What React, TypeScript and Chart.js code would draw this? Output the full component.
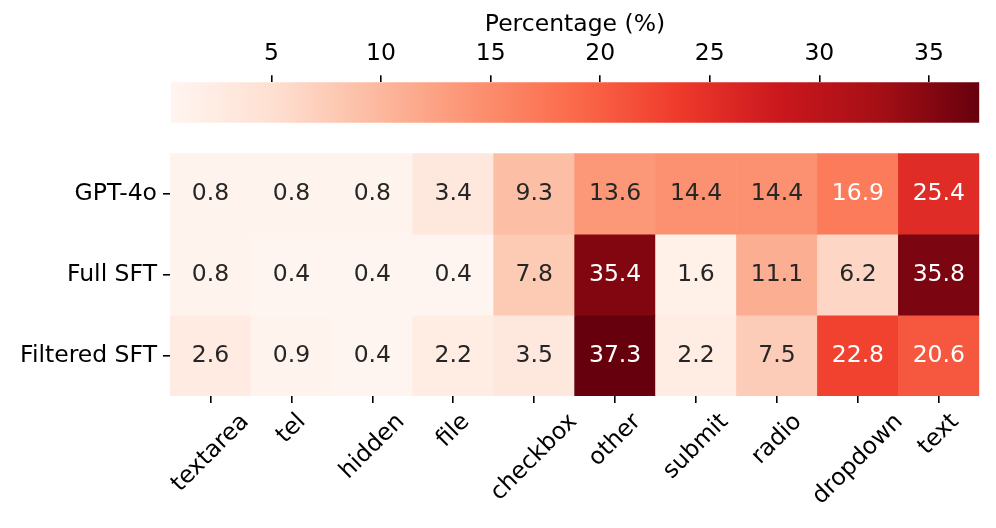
import React, { useEffect, useRef } from "react";
import { Chart, registerables } from "chart.js";

Chart.register(...registerables);

const categories = ["textarea", "tel", "hidden", "file", "checkbox", "other", "submit", "radio", "dropdown", "text"];
const rowLabels = ["GPT-4o", "Full SFT", "Filtered SFT"];
const gpt4o = [0.8, 0.8, 0.8, 3.4, 9.3, 13.6, 14.4, 14.4, 16.9, 25.4];
const fullSft = [0.8, 0.4, 0.4, 0.4, 7.8, 35.4, 1.6, 11.1, 6.2, 35.8];
const filteredSft = [2.6, 0.9, 0.4, 2.2, 3.5, 37.3, 2.2, 7.5, 22.8, 20.6];
const colorbarTicks = [5, 10, 15, 20, 25, 30, 35];
const vMin = 0.4;
const vMax = 37.3;

const REDS = ["#fff5f0", "#fee0d2", "#fcbba1", "#fc9272", "#fb6a4a", "#ef3b2c", "#cb181d", "#a50f15", "#67000d"];
const FONT = '"DejaVu Sans"';
const FS = 23.5;

function hexToRgb(h: string) {
  return [parseInt(h.slice(1, 3), 16), parseInt(h.slice(3, 5), 16), parseInt(h.slice(5, 7), 16)];
}
function redsRgb(t: number) {
  t = Math.max(0, Math.min(1, t));
  const p = t * (REDS.length - 1);
  const i = Math.min(REDS.length - 2, Math.floor(p));
  const f = p - i;
  const a = hexToRgb(REDS[i]);
  const b = hexToRgb(REDS[i + 1]);
  return [0, 1, 2].map((k) => a[k] + (b[k] - a[k]) * f);
}
function colorFor(v: number) {
  const c = redsRgb((v - vMin) / (vMax - vMin));
  return `rgb(${Math.round(c[0])},${Math.round(c[1])},${Math.round(c[2])})`;
}
function textColorFor(v: number) {
  const c = redsRgb((v - vMin) / (vMax - vMin)).map((x) => {
    const s = x / 255;
    return s <= 0.03928 ? s / 12.92 : Math.pow((s + 0.055) / 1.055, 2.4);
  });
  const lum = 0.2126 * c[0] + 0.7152 * c[1] + 0.0722 * c[2];
  return lum > 0.408 ? "#262626" : "#ffffff";
}

export default function App() {
  const cbRef = useRef<HTMLCanvasElement>(null);
  const hmRef = useRef<HTMLCanvasElement>(null);

  useEffect(() => {
    const values = [gpt4o, fullSft, filteredSft];

    const gradientPlugin = {
      id: "cbGradient",
      afterLayout(chart: any) {
        const xs = chart.scales.x;
        const x0 = xs.getPixelForValue(vMin);
        const x1 = xs.getPixelForValue(vMax);
        if (!isFinite(x0) || !isFinite(x1)) return;
        const g = chart.ctx.createLinearGradient(x0, 0, x1, 0);
        REDS.forEach((c, i) => g.addColorStop(i / (REDS.length - 1), c));
        chart.data.datasets[0].backgroundColor = g;
      },
    };

    const cbChart = new Chart(cbRef.current!, {
      type: "bar",
      data: {
        labels: [""],
        datasets: [
          {
            data: [[vMin, vMax]] as any,
            borderWidth: 0,
            barPercentage: 1,
            categoryPercentage: 1,
            backgroundColor: REDS[4],
          },
        ],
      },
      options: {
        indexAxis: "y",
        animation: false,
        responsive: false,
        devicePixelRatio: 1,
        layout: { padding: { left: 170.7, right: 16.7, top: 0, bottom: 7.3 } },
        plugins: { legend: { display: false }, tooltip: { enabled: false } },
        scales: {
          x: {
            type: "linear",
            position: "top",
            min: vMin,
            max: vMax,
            afterBuildTicks: (axis: any) => {
              axis.ticks = colorbarTicks.map((v) => ({ value: v }));
            },
            afterFit: (axis: any) => {
              axis.height = 82.3;
              axis.paddingLeft = 0;
              axis.paddingRight = 0;
            },
            grid: { drawOnChartArea: false, drawTicks: true, tickLength: 7, color: "#000", lineWidth: 1.6 },
            border: { display: false },
            ticks: {
              padding: 7.5,
              color: "#000",
              font: { family: FONT, size: FS },
              maxRotation: 0,
              autoSkip: false,
            },
            title: {
              display: true,
              text: "Percentage (%)",
              color: "#000",
              font: { family: FONT, size: FS },
              padding: { top: 11, bottom: 0 },
            },
          },
          y: { display: false },
        },
      } as any,
      plugins: [gradientPlugin],
    });
    cbChart.update();

    const annotatePlugin = {
      id: "annotate",
      afterDatasetsDraw(chart: any) {
        const ctx = chart.ctx;
        ctx.save();
        ctx.font = `${FS}px ${FONT}`;
        ctx.textAlign = "center";
        ctx.textBaseline = "alphabetic";
        chart.data.datasets.forEach((ds: any, d: number) => {
          const meta = chart.getDatasetMeta(d);
          meta.data.forEach((el: any, i: number) => {
            const raw = ds.data[i];
            const p = el.getProps(["x", "y", "base"], true);
            const cy = (p.y + p.base) / 2;
            ctx.fillStyle = textColorFor(raw.v);
            ctx.fillText(raw.v.toFixed(1), p.x, cy + 6.5);
          });
        });
        ctx.restore();
      },
    };

    const xLabelPlugin = {
      id: "xlabels",
      afterDraw(chart: any) {
        const ctx = chart.ctx;
        const xs = chart.scales.x;
        const top = chart.chartArea.bottom + 7 + 7;
        ctx.save();
        ctx.font = `${FS}px ${FONT}`;
        ctx.fillStyle = "#000";
        ctx.textAlign = "center";
        ctx.textBaseline = "alphabetic";
        categories.forEach((lab, i) => {
          const x = xs.getPixelForTick(i);
          const L = ctx.measureText(lab).width;
          const H = FS * 0.98;
          const half = ((L + H) * Math.SQRT1_2) / 2;
          ctx.save();
          ctx.translate(x, top + half);
          ctx.rotate(-Math.PI / 4);
          ctx.fillText(lab, 0, FS * 0.262);
          ctx.restore();
        });
        ctx.restore();
      },
    };

    const hmChart = new Chart(hmRef.current!, {
      type: "bar",
      data: {
        labels: categories,
        datasets: rowLabels.map((name, r) => ({
          label: name,
          data: values[r].map((v, c) => ({ x: categories[c], y: [r, r + 1], v })),
          backgroundColor: values[r].map((v) => colorFor(v)),
          borderWidth: 0,
          barPercentage: 1,
          categoryPercentage: 1,
          grouped: false,
        })),
      },
      options: {
        animation: false,
        responsive: false,
        devicePixelRatio: 1,
        layout: { padding: { left: 0, right: 16.7, top: 13.3, bottom: 0 } },
        plugins: { legend: { display: false }, tooltip: { enabled: false } },
        scales: {
          x: {
            type: "category",
            offset: true,
            afterFit: (axis: any) => {
              axis.height = 132;
              axis.paddingLeft = 0;
              axis.paddingRight = 0;
            },
            grid: { offset: false, drawOnChartArea: false, drawTicks: true, tickLength: 7, color: "#000", lineWidth: 1.6 },
            border: { display: false },
            ticks: { display: false, autoSkip: false },
          },
          y: {
            type: "linear",
            min: 0,
            max: 3,
            reverse: true,
            afterBuildTicks: (axis: any) => {
              axis.ticks = rowLabels.map((_, i) => ({ value: i + 0.5 }));
            },
            afterFit: (axis: any) => {
              axis.width = 170;
              axis.paddingTop = 0;
              axis.paddingBottom = 0;
            },
            grid: { drawOnChartArea: false, drawTicks: true, tickLength: 7, color: "#000", lineWidth: 1.6 },
            border: { display: false },
            ticks: {
              padding: 6,
              color: "#000",
              font: { family: FONT, size: FS },
              callback: (v: any) => rowLabels[Math.floor(Number(v))],
            },
          },
        },
      } as any,
      plugins: [annotatePlugin, xLabelPlugin],
    });

    return () => {
      cbChart.destroy();
      hmChart.destroy();
    };
  }, []);

  return (
    <div style={{ position: "fixed", left: 0, top: 0, width: 996, height: 528, background: "#fff" }}>
      <canvas ref={cbRef} width={996} height={130} style={{ position: "absolute", left: 0, top: 0, width: 996, height: 130 }} />
      <canvas ref={hmRef} width={996} height={388} style={{ position: "absolute", left: 0, top: 140, width: 996, height: 388 }} />
    </div>
  );
}
